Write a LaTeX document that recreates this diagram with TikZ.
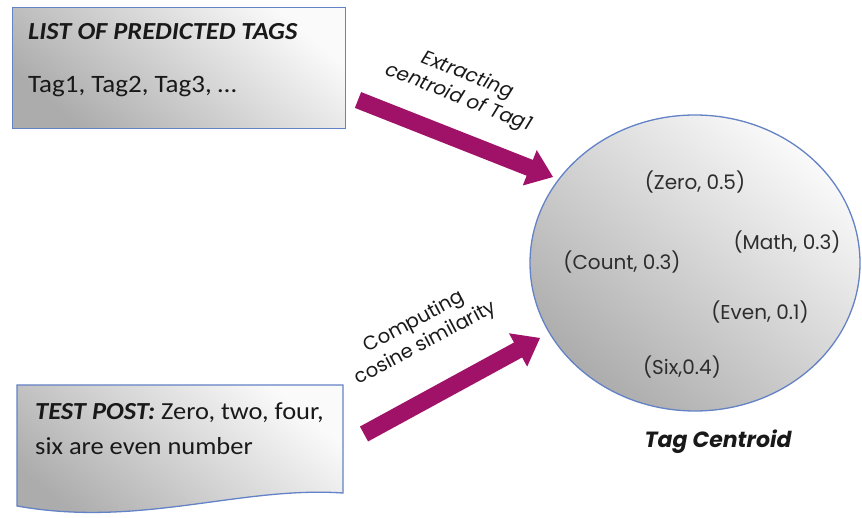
\documentclass[tikz,border=0pt]{standalone}
\usepackage{fontspec}
\setmainfont[FakeStretch=1.08]{Carlito}
\newfontfamily\gothic{Poppins}
\usetikzlibrary{shapes.geometric,calc}

\definecolor{edgeblue}{RGB}{100,130,198}
\definecolor{plum}{RGB}{160,18,104}
\definecolor{shadedark}{RGB}{172,172,172}
\definecolor{shadelight}{RGB}{250,250,250}
\definecolor{inktext}{RGB}{25,25,25}
\definecolor{softtext}{RGB}{45,45,45}

% thick block arrow from #1 (tail) to #2 (tip)
\newcommand\fatarrow[2]{%
  \path ($(#2)!25pt!(#1)$) coordinate (#2-base);
  \fill[plum]
    ($(#1)!8.5pt!90:(#2)$) --
    ($(#2-base)!8.5pt!-90:(#1)$) --
    ($(#2-base)!19pt!-90:(#1)$) --
    (#2) --
    ($(#2-base)!19pt!90:(#1)$) --
    ($(#2-base)!8.5pt!90:(#1)$) --
    ($(#1)!8.5pt!-90:(#2)$) -- cycle;}

\begin{document}
\begin{tikzpicture}[x=1pt,y=-1pt,
  panel/.style={draw=edgeblue, line width=1.3pt,
    top color=shadelight, bottom color=shadedark, shading angle=-40},
  boxtext/.style={anchor=base west, inner sep=0pt, text=inktext,
    font=\fontsize{24.5}{28}\selectfont},
  boxhead/.style={boxtext, font=\fontsize{24.5}{28}\selectfont\bfseries\itshape},
  steplabel/.style={align=center, inner sep=0pt, text=inktext,
    font=\gothic\fontsize{19.5}{24}\selectfont},
  pairlabel/.style={inner sep=0pt, text=softtext,
    font=\gothic\fontsize{20}{24}\selectfont}
]
\useasboundingbox (0,0) rectangle (862,518);

% list of predicted tags
\node[panel, rectangle, anchor=north west, inner sep=0pt,
      minimum width=333pt, minimum height=121pt] (tagsbox) at (12,7) {};
\node[boxhead] (tagshead) at (28,40) {LIST OF PREDICTED TAGS};
\node[boxtext, font=\fontsize{25}{28}\selectfont] (tagslist) at (28,93)
  {Tag1, Tag2, Tag3, \dots};

% test post, document shape
\draw[panel] (17,385) -- (343,385) -- (343,493)
  .. controls (240,486) and (140,528) .. (17,506) -- cycle;
\node[boxtext] (posthead) at (35,419)
  {\bfseries\itshape TEST POST:\mdseries\upshape{} Zero, two, four,};
\node[boxtext] (postbody) at (35,454) {six are even number};

% tag centroid
\node[ellipse, draw=edgeblue, line width=1.3pt, inner sep=0pt,
      minimum width=330pt, minimum height=296pt,
      top color=shadelight, bottom color=shadedark, shading angle=-40]
      (centroid) at (695,263) {};
\node[pairlabel] (pzero)  at (695,182) {(Zero, 0.5)};
\node[pairlabel] (pmath)  at (787,242) {(Math, 0.3)};
\node[pairlabel] (pcount) at (622,262) {(Count, 0.3)};
\node[pairlabel] (peven)  at (760,312) {(Even, 0.1)};
\node[pairlabel] (psix)   at (682,367) {(Six,0.4)};
\node[inner sep=0pt, text=inktext,
      font=\gothic\fontsize{22}{26}\selectfont\bfseries\itshape]
      (centroidname) at (718,442) {Tag Centroid};

% arrows into the centroid
\coordinate (tagsOut) at (358,100);
\coordinate (tagsIn)  at (553,177);
\coordinate (postOut) at (364,434);
\coordinate (postIn)  at (540,338);
\fatarrow{tagsOut}{tagsIn}
\fatarrow{postOut}{postIn}

\node[steplabel, rotate=-21.5] (extract) at (463,87)
  {\itshape Extracting\\\itshape centroid of Tag1};
\node[steplabel, rotate=28] (compute) at (420,333)
  {Computing\\cosine similarity};
\end{tikzpicture}
\end{document}
